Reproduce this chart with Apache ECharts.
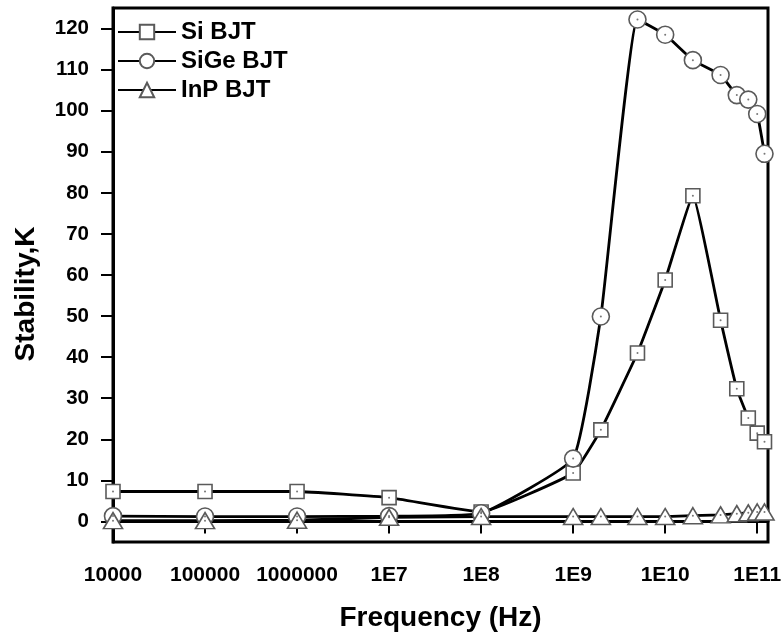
<!DOCTYPE html>
<html>
<head>
<meta charset="utf-8">
<script src="https://cdn.jsdelivr.net/npm/echarts@6/dist/echarts.min.js"></script>
<style>html,body{margin:0;padding:0;background:#fff}#c{width:783px;height:634px}</style>
</head>
<body>
<div id="c"></div>
<script>
var freqs = [1e4, 1e5, 1e6, 1e7, 1e8, 1e9, 2e9, 5e9, 1e10, 2e10, 4e10, 6e10, 8e10, 1e11, 1.2e11];
var siBJT = [7.3, 7.3, 7.3, 5.8, 2.3, 11.8, 22.3, 41.0, 58.8, 79.3, 49.0, 32.3, 25.2, 21.5, 19.4];
var siGeBJT = [1.3, 1.2, 1.2, 1.3, 2.0, 15.3, 49.9, 122.2, 118.5, 112.3, 108.7, 103.8, 102.7, 99.2, 89.5];
var inpBJT = [0.2, 0.2, 0.3, 1.0, 1.2, 1.2, 1.2, 1.2, 1.2, 1.4, 1.6, 1.9, 2.1, 2.3, 2.3];
var xTickValues = [1e4, 1e5, 1e6, 1e7, 1e8, 1e9, 1e10, 1e11];
var xTickLabels = ['10000', '100000', '1000000', '1E7', '1E8', '1E9', '1E10', '1E11'];
var yTickValues = [0, 10, 20, 30, 40, 50, 60, 70, 80, 90, 100, 110, 120];
var seriesNames = ['Si BJT', 'SiGe BJT', 'InP BJT'];

function pairs(ys) { return freqs.map(function (f, i) { return [f, ys[i]]; }); }

var FONT = 'Liberation Sans';
var chart = echarts.init(document.getElementById('c'));

function lineSeries(name, ys, symbol, size, smooth) {
  return {
    name: name, type: 'line', data: pairs(ys), smooth: smooth,
    symbol: symbol, symbolSize: size, showAllSymbol: true,
    lineStyle: { color: '#000', width: 2.8 },
    itemStyle: { color: '#fff', borderColor: '#5a5a5a', borderWidth: 1.6 },
    z: 3
  };
}
function dotSeries(ys) {
  return {
    type: 'scatter', data: pairs(ys), symbol: 'circle', symbolSize: 2,
    itemStyle: { color: '#555' }, silent: true, z: 4
  };
}

chart.setOption({
  animation: false,
  grid: { left: 113, right: 15, top: 8, bottom: 92, show: true, borderColor: '#000', borderWidth: 3, containLabel: false, outerBoundsMode: 'none' },
  legend: {
    data: seriesNames.map(function (n) { return { name: n }; }),
    orient: 'vertical', left: 112, top: 15, itemWidth: 58, itemHeight: 18, itemGap: 5,
    textStyle: { fontFamily: FONT, fontWeight: 'bold', fontSize: 24, color: '#000' }
  },
  xAxis: {
    type: 'log', logBase: 10, min: 1e4, max: 1.31e11,
    name: 'Frequency (Hz)', nameLocation: 'middle', nameGap: 62,
    nameTextStyle: { fontFamily: FONT, fontWeight: 'bold', fontSize: 28, color: '#000' },
    axisLine: { lineStyle: { color: '#000', width: 3 } },
    axisTick: { show: true, inside: false, length: 12, lineStyle: { color: '#000', width: 2 }, customValues: xTickValues },
    axisLabel: {
      customValues: xTickValues, margin: 23,
      fontFamily: FONT, fontWeight: 'bold', fontSize: 21, color: '#000',
      formatter: function (v) {
        var i = xTickValues.findIndex(function (t) { return Math.abs(Math.log10(t) - Math.log10(v)) < 1e-6; });
        return i >= 0 ? xTickLabels[i] : '';
      }
    },
    splitLine: { show: false }, minorTick: { show: false }
  },
  yAxis: {
    type: 'value', min: -5, max: 125,
    name: 'Stability,K', nameLocation: 'middle', nameGap: 73,
    nameTextStyle: { fontFamily: FONT, fontWeight: 'bold', fontSize: 28, color: '#000', padding: [0, 38, 0, 0] },
    axisLine: { show: true, lineStyle: { color: '#000', width: 3 } },
    axisTick: { show: true, inside: false, length: 12, lineStyle: { color: '#000', width: 2 }, customValues: yTickValues },
    axisLabel: { customValues: yTickValues, margin: 24, fontFamily: FONT, fontWeight: 'bold', fontSize: 20.5, color: '#000' },
    splitLine: { show: false }
  },
  series: [
    lineSeries(seriesNames[0], siBJT, 'rect', 14, 0.1),
    lineSeries(seriesNames[1], siGeBJT, 'circle', 17, 0.12),
    lineSeries(seriesNames[2], inpBJT, 'triangle', [19, 16], false),
    dotSeries(siBJT), dotSeries(siGeBJT), dotSeries(inpBJT)
  ]
});
</script>
</body>
</html>
